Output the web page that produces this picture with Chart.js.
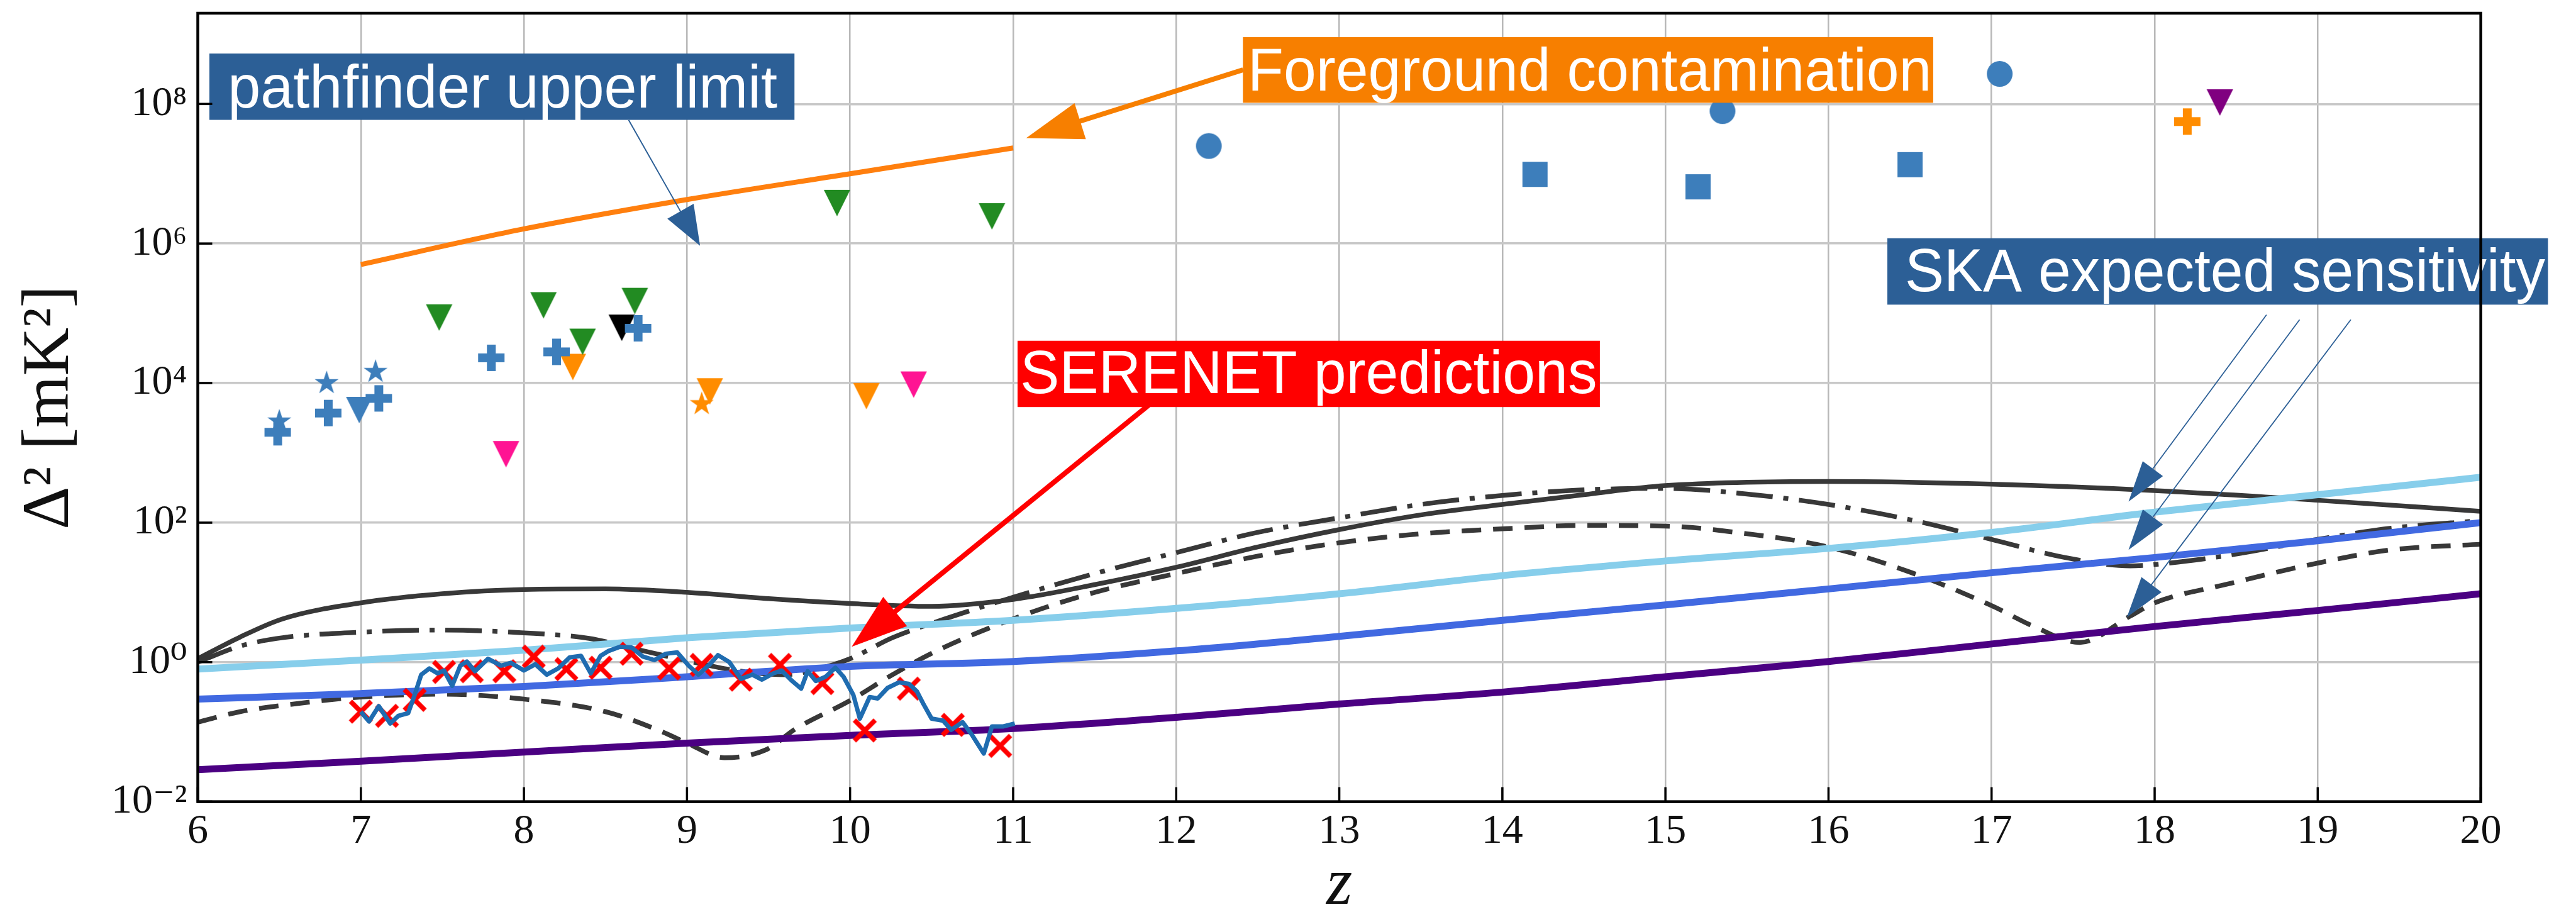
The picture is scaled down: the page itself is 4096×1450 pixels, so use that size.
<!DOCTYPE html>
<html>
<head>
<meta charset="utf-8">
<script src="https://cdn.jsdelivr.net/npm/chart.js@4.4.1/dist/chart.umd.min.js"></script>
<style>
  html, body { margin: 0; padding: 0; background: #fff; }
  canvas { display: block; }
</style>
</head>
<body>
<canvas id="powerChart" width="4096" height="1450"></canvas>
<script>
// axis ticks
const yTicks = [1e-2, 1e0, 1e2, 1e4, 1e6, 1e8];
const yTickLabels = ['10⁻²', '10⁰', '10²', '10⁴', '10⁶', '10⁸'];

// theory curves (black)
const zSolid = [6.0, 6.26, 6.52, 7.0, 7.5, 8.0, 8.5, 9.0, 9.5, 10.0, 10.5, 11.0, 11.5, 12.0, 12.5, 13.0, 13.5, 14.0, 14.5, 15.0, 16.0, 17.0, 18.0, 19.0, 20.0];
const solid = [1.12, 2.29, 4.17, 7.08, 9.55, 11.0, 11.2, 10.0, 8.13, 6.92, 6.31, 7.94, 12.9, 22.9, 44.7, 79.4, 129, 182, 251, 339, 389, 355, 288, 209, 145];

const zDashDot = [6.0, 6.26, 6.52, 7.0, 7.5, 8.0, 8.4, 8.7, 9.0, 9.3, 9.6, 9.8, 10.0, 10.26, 10.53, 11.0, 11.5, 12.0, 12.5, 13.0, 13.5, 14.0, 14.5, 15.0, 15.5, 16.0, 16.5, 17.0, 17.45, 17.85, 18.0, 18.45, 19.0, 19.45, 20.0];
const dashDot = [1.0, 1.70, 2.24, 2.69, 2.88, 2.63, 2.19, 1.51, 1.05, 0.759, 0.661, 0.794, 1.12, 2.24, 3.80, 8.51, 18.6, 37.2, 72.4, 117, 182, 245, 295, 309, 257, 182, 110, 57.5, 31.6, 24.0, 25.1, 33.9, 57.5, 83.2, 107];

const zDashed = [6.0, 6.26, 6.52, 7.0, 7.5, 8.0, 8.5, 8.85, 9.0, 9.23, 9.48, 9.67, 10.0, 10.26, 10.53, 11.0, 11.5, 12.0, 12.5, 13.0, 13.5, 14.0, 14.5, 15.0, 15.5, 16.0, 16.5, 17.0, 17.26, 17.54, 17.85, 18.0, 18.45, 19.0, 19.45, 20.0];
const dashed = [0.138, 0.195, 0.240, 0.316, 0.347, 0.295, 0.195, 0.100, 0.0692, 0.0427, 0.0550, 0.112, 0.282, 0.661, 1.45, 4.17, 10.0, 18.6, 33.1, 51.3, 69.2, 81.3, 91.2, 89.1, 69.2, 44.7, 19.5, 6.46, 3.24, 1.91, 4.57, 7.08, 13.2, 26.3, 40.7, 49.0];

// SKA sensitivity curves
const zSka = [6, 7, 8, 9, 10, 11, 12, 13, 14, 15, 16, 17, 18, 19, 20];
const skaTop = [0.794, 1.07, 1.48, 2.24, 3.09, 3.98, 5.89, 9.55, 17.4, 28.2, 42.7, 72.4, 141, 251, 447];
const skaMid = [0.295, 0.355, 0.447, 0.617, 0.871, 1.02, 1.45, 2.34, 3.98, 6.61, 11.2, 19.1, 31.6, 55.0, 100];
const skaBottom = [0.0288, 0.038, 0.0513, 0.0692, 0.0891, 0.112, 0.162, 0.251, 0.372, 0.617, 1.02, 1.82, 3.24, 5.50, 9.55];

// foreground contamination
const zFg = [7, 8, 9, 10, 11];
const foreground = [5.0e5, 1.62e6, 4.27e6, 1.0e7, 2.34e7];

// SERENET predictions
const zSerenet = [7.00, 7.05, 7.11, 7.18, 7.23, 7.29, 7.33, 7.37, 7.42, 7.47, 7.51, 7.56, 7.61, 7.65, 7.70, 7.78, 7.86, 7.92, 8.00, 8.07, 8.14, 8.21, 8.28, 8.35, 8.41, 8.47, 8.52, 8.59, 8.66, 8.73, 8.80, 8.87, 8.94, 9.01, 9.07, 9.14, 9.19, 9.26, 9.33, 9.40, 9.46, 9.53, 9.58, 9.64, 9.70, 9.74, 9.79, 9.85, 9.91, 9.96, 10.02, 10.06, 10.12, 10.17, 10.23, 10.30, 10.36, 10.41, 10.45, 10.50, 10.57, 10.62, 10.69, 10.75, 10.82, 10.87, 10.94, 11.01];
const serenet = [0.195, 0.141, 0.234, 0.132, 0.170, 0.186, 0.339, 0.661, 0.813, 0.692, 0.759, 0.457, 0.891, 1.02, 0.741, 1.12, 0.891, 0.977, 0.759, 0.933, 0.661, 0.813, 1.17, 1.23, 0.692, 1.23, 1.45, 1.66, 1.62, 1.20, 1.07, 1.32, 1.38, 0.891, 0.661, 0.933, 1.26, 1.00, 0.575, 0.661, 0.562, 0.692, 0.759, 0.550, 0.417, 0.741, 0.537, 0.617, 0.832, 0.617, 0.339, 0.155, 0.316, 0.302, 0.427, 0.513, 0.490, 0.380, 0.251, 0.155, 0.145, 0.107, 0.138, 0.089, 0.049, 0.120, 0.120, 0.132];
const zCross = [7.00, 7.16, 7.33, 7.51, 7.68, 7.88, 8.06, 8.26, 8.47, 8.66, 8.89, 9.09, 9.33, 9.57, 9.83, 10.09, 10.36, 10.63, 10.92];
const crosses = [0.195, 0.170, 0.288, 0.724, 0.741, 0.741, 1.20, 0.794, 0.832, 1.32, 0.813, 0.912, 0.562, 0.912, 0.501, 0.105, 0.417, 0.126, 0.063];

// pathfinder upper limits
const zBluePlus = [6.49, 6.80, 7.11, 7.80, 8.20, 8.70];
const bluePlus = [1970, 3720, 6030, 2.3e4, 2.8e4, 6.1e4];
const zBlueStar = [6.50, 6.79, 7.09];
const blueStar = [2820, 1.0e4, 1.45e4];
const zBlueTri = [6.99];
const blueTri = [4.1e3];
const zBlueCircle = [12.20, 15.35, 17.05];
const blueCircle = [2.5e7, 7.9e7, 2.7e8];
const zBlueSquare = [14.20, 15.20, 16.50];
const blueSquare = [9.8e6, 6.5e6, 1.35e7];
const zGreenTri = [7.48, 8.12, 8.36, 8.68, 9.92, 10.87];
const greenTri = [8.7e4, 1.3e5, 3.9e4, 1.5e5, 3.8e6, 2.45e6];
const zOrangeTri = [8.30, 9.14, 10.10];
const orangeTri = [1.7e4, 7.6e3, 6.5e3];
const zOrangeStar = [9.09];
const orangeStar = [5.0e3];
const zOrangePlus = [18.20];
const orangePlus = [5.6e7];
const zPinkTri = [7.89, 10.39];
const pinkTri = [955, 9.5e3];
const zBlackTri = [8.60];
const blackTri = [6.2e4];
const zPurpleTri = [18.40];
const purpleTri = [1.05e8];

// annotation boxes and arrows, in data coordinates
const labels = [
  { text: 'pathfinder upper limit', bg: '#2c5f96', box: [6.071, 9.659, 5.28e8, 5.92e7], tx: [6.184, 9.554], base: 8.97e7 },
  { text: 'Foreground contamination', bg: '#f77f00', box: [12.409, 16.642, 9.08e8, 1.04e8], tx: [12.439, 16.632], base: 1.57e8 },
  { text: 'SERENET predictions', bg: '#ff0000', box: [11.027, 14.598, 4.04e4, 4.53e3], tx: [11.044, 14.581], base: 7.11e3 },
  { text: 'SKA expected sensitivity', bg: '#2c5f96', box: [16.361, 20.412, 1.19e6, 1.33e5], tx: [16.469, 20.395], base: 2.06e5 }
];
const arrows = [
  { from: [8.642, 5.9e7], to: [9.08, 9.3e5], color: '#2c5f96', lw: 2, hl: 63, hw: 48 },
  { from: [12.41, 3.09e8], to: [11.08, 3.24e7], color: '#f77f00', lw: 8, hl: 90, hw: 60 },
  { from: [11.83, 4.8e3], to: [10.01, 1.66], color: '#ff0000', lw: 8, hl: 89, hw: 60 },
  { from: [18.686, 9.5e4], to: [17.84, 200], color: '#2c5f96', lw: 1.8, hl: 65, hw: 40 },
  { from: [18.889, 8.1e4], to: [17.84, 40.7], color: '#2c5f96', lw: 1.8, hl: 65, hw: 40 },
  { from: [19.203, 8.1e4], to: [17.83, 4.4], color: '#2c5f96', lw: 1.8, hl: 65, hw: 40 }
];

function pts(xs, ys) {
  return xs.map((x, i) => ({ x: x, y: ys[i] }));
}

// matplotlib-like marker images
function marker(shape, color, size) {
  const pad = 5;
  const c = document.createElement('canvas');
  c.width = c.height = Math.ceil(size + pad * 2);
  const g = c.getContext('2d');
  const m = c.width / 2, h = size / 2;
  g.fillStyle = color;
  g.strokeStyle = color;
  g.beginPath();
  if (shape === 'v') {
    g.moveTo(m - h, m - h); g.lineTo(m + h, m - h); g.lineTo(m, m + h);
  } else if (shape === 'P') {
    const u = size / 6;
    const p = [[-1, -3], [1, -3], [1, -1], [3, -1], [3, 1], [1, 1], [1, 3], [-1, 3], [-1, 1], [-3, 1], [-3, -1], [-1, -1]];
    p.forEach((q, i) => i ? g.lineTo(m + q[0] * u, m + q[1] * u) : g.moveTo(m + q[0] * u, m + q[1] * u));
  } else if (shape === '*') {
    for (let i = 0; i < 10; i++) {
      const r = i % 2 ? h * 0.382 : h;
      const a = -Math.PI / 2 + i * Math.PI / 5;
      const px = m + r * Math.cos(a), py = m + r * Math.sin(a);
      i ? g.lineTo(px, py) : g.moveTo(px, py);
    }
  } else if (shape === 'o') {
    g.arc(m, m, h, 0, Math.PI * 2);
  } else if (shape === 's') {
    g.rect(m - h, m - h, size, size);
  } else if (shape === 'x') {
    g.lineWidth = 7.5;
    g.moveTo(m - h, m - h); g.lineTo(m + h, m + h);
    g.moveTo(m + h, m - h); g.lineTo(m - h, m + h);
    g.stroke();
    return c;
  }
  g.closePath();
  g.fill();
  return c;
}

const blue = '#3d7ebb', green = '#228b22', orange = '#ff8c00', pink = '#ff1493', purple = '#800080';

function curve(data, color, width, dash, order) {
  return {
    data: data, showLine: true, borderColor: color, borderWidth: width, borderDash: dash || [],
    pointRadius: 0, cubicInterpolationMode: 'monotone', order: order
  };
}
function scatter(data, img) {
  return { data: data, showLine: false, pointStyle: img, pointRadius: 20, order: 0 };
}

const overlay = {
  id: 'overlay',
  afterDraw(chart) {
    const { ctx, chartArea: a, scales: { x, y } } = chart;
    ctx.save();
    // arrows
    arrows.forEach(ar => {
      const x0 = x.getPixelForValue(ar.from[0]), y0 = y.getPixelForValue(ar.from[1]);
      const x1 = x.getPixelForValue(ar.to[0]), y1 = y.getPixelForValue(ar.to[1]);
      const len = Math.hypot(x1 - x0, y1 - y0);
      const ux = (x1 - x0) / len, uy = (y1 - y0) / len;
      const bx = x1 - ux * ar.hl, by = y1 - uy * ar.hl;
      ctx.strokeStyle = ar.color;
      ctx.lineWidth = ar.lw;
      ctx.beginPath();
      ctx.moveTo(x0, y0);
      ctx.lineTo(bx + ux * 4, by + uy * 4);
      ctx.stroke();
      ctx.fillStyle = ar.color;
      ctx.beginPath();
      ctx.moveTo(x1, y1);
      ctx.lineTo(bx - uy * ar.hw / 2, by + ux * ar.hw / 2);
      ctx.lineTo(bx + uy * ar.hw / 2, by - ux * ar.hw / 2);
      ctx.closePath();
      ctx.fill();
    });
    // label boxes
    labels.forEach(lb => {
      const bx0 = x.getPixelForValue(lb.box[0]), bx1 = x.getPixelForValue(lb.box[1]);
      const by0 = y.getPixelForValue(lb.box[2]), by1 = y.getPixelForValue(lb.box[3]);
      ctx.fillStyle = lb.bg;
      ctx.fillRect(bx0, by0, bx1 - bx0, by1 - by0);
      ctx.font = '96px "Liberation Sans Narrow", "Liberation Sans", Arial, sans-serif';
      ctx.textBaseline = 'alphabetic';
      ctx.textAlign = 'left';
      const w = ctx.measureText(lb.text).width;
      const tx0 = x.getPixelForValue(lb.tx[0]), tx1 = x.getPixelForValue(lb.tx[1]);
      ctx.save();
      ctx.translate(tx0, y.getPixelForValue(lb.base));
      ctx.scale((tx1 - tx0) / w, 1);
      ctx.fillStyle = '#ffffff';
      ctx.fillText(lb.text, 0, 0);
      ctx.restore();
    });
    // inward ticks and frame
    ctx.strokeStyle = '#000';
    ctx.lineWidth = 3.5;
    ctx.beginPath();
    x.ticks.forEach(t => {
      const px = x.getPixelForValue(t.value);
      ctx.moveTo(px, a.bottom); ctx.lineTo(px, a.bottom - 23);
    });
    y.ticks.forEach(t => {
      const py = y.getPixelForValue(t.value);
      ctx.moveTo(a.left, py); ctx.lineTo(a.left + 23, py);
    });
    ctx.stroke();
    ctx.lineWidth = 4.5;
    ctx.strokeRect(a.left, a.top, a.right - a.left, a.bottom - a.top);
    ctx.restore();
  }
};

const tickFont = { family: '"Liberation Serif", "DejaVu Serif", serif', size: 66 };

new Chart(document.getElementById('powerChart'), {
  type: 'scatter',
  data: {
    datasets: [
      scatter(pts(zBluePlus, bluePlus), marker('P', blue, 42)),
      scatter(pts(zBlueStar, blueStar), marker('*', blue, 40)),
      scatter(pts(zBlueTri, blueTri), marker('v', blue, 42)),
      scatter(pts(zBlueCircle, blueCircle), marker('o', blue, 41)),
      scatter(pts(zBlueSquare, blueSquare), marker('s', blue, 40)),
      scatter(pts(zGreenTri, greenTri), marker('v', green, 42)),
      scatter(pts(zOrangeTri, orangeTri), marker('v', orange, 42)),
      scatter(pts(zOrangeStar, orangeStar), marker('*', orange, 40)),
      scatter(pts(zOrangePlus, orangePlus), marker('P', orange, 42)),
      scatter(pts(zPinkTri, pinkTri), marker('v', pink, 42)),
      scatter(pts(zBlackTri, blackTri), marker('v', '#000000', 42)),
      scatter(pts(zPurpleTri, purpleTri), marker('v', purple, 42)),
      { data: pts(zSerenet, serenet), showLine: true, borderColor: '#1f6cb0', borderWidth: 7, borderJoinStyle: 'round', pointRadius: 0, order: 1 },
      { data: pts(zCross, crosses), showLine: false, pointStyle: marker('x', '#ff0000', 33), pointRadius: 20, order: 2 },
      curve(pts(zFg, foreground), '#ff7f0e', 8, null, 3),
      curve(pts(zSka, skaBottom), '#4b0082', 11, null, 4),
      curve(pts(zSka, skaMid), '#4169e1', 11, null, 5),
      curve(pts(zSka, skaTop), '#87ceeb', 11, null, 6),
      curve(pts(zDashed, dashed), '#383838', 7.5, [31, 19], 7),
      curve(pts(zDashDot, dashDot), '#383838', 7.5, [58, 17, 8, 17], 8),
      curve(pts(zSolid, solid), '#383838', 7.5, null, 9)
    ]
  },
  options: {
    responsive: false,
    animation: false,
    devicePixelRatio: 1,
    layout: { padding: { top: 14, right: 151.4, bottom: 0, left: 0 } },
    plugins: { legend: { display: false }, tooltip: { enabled: false } },
    scales: {
      x: {
        type: 'linear', min: 6, max: 20,
        ticks: { stepSize: 1, autoSkip: false, maxRotation: 0, padding: 8, color: '#111', font: tickFont },
        grid: { color: '#b8b8b8', lineWidth: 2.5, drawTicks: false },
        border: { display: false },
        title: {
          display: true, text: 'z', color: '#111',
          font: { family: '"Liberation Serif", "DejaVu Serif", serif', size: 106, style: 'italic', lineHeight: 0.6 },
          padding: { top: 0, bottom: 9 }
        },
        afterFit(s) { s.height = 175.4; s.paddingLeft = 0; s.paddingRight = 0; }
      },
      y: {
        type: 'logarithmic', min: 1e-2, max: 2e9,
        afterBuildTicks(s) { s.ticks = yTicks.map(v => ({ value: v })); },
        ticks: { callback: (v, i) => yTickLabels[i], padding: 17, color: '#111', font: tickFont },
        grid: { color: '#c8c8c8', lineWidth: 3.5, drawTicks: false },
        border: { display: false },
        title: {
          display: true, text: 'Δ² [mK²]', color: '#111',
          font: { family: '"Liberation Serif", "DejaVu Serif", serif', size: 106 },
          padding: { top: 17, bottom: 0 }
        },
        afterFit(s) { s.width = 314.5; s.paddingTop = 0; s.paddingBottom = 0; }
      }
    }
  },
  plugins: [overlay]
});
</script>
</body>
</html>
